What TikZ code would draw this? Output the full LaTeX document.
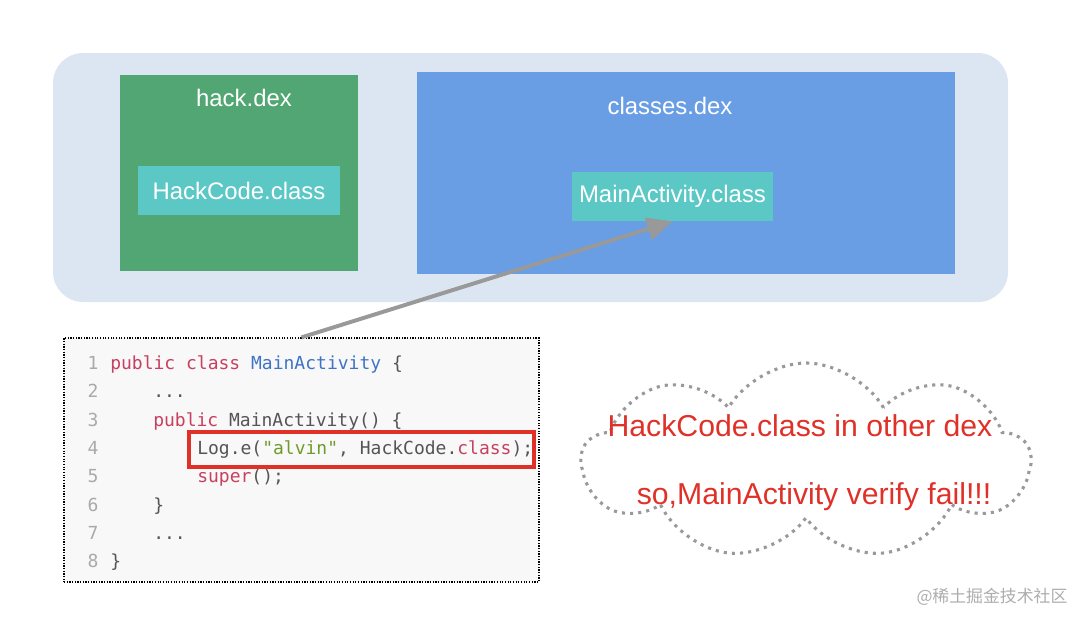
\documentclass[tikz,border=0pt]{standalone}
\usepackage{fontspec}
\setmainfont{Liberation Sans}
\setmonofont{DejaVu Sans Mono}
\newfontfamily\cjkfont{Noto Sans CJK SC}
\usetikzlibrary{arrows.meta,fit,shapes.symbols}
\definecolor{dexbg}{HTML}{DCE6F2}
\definecolor{hackgreen}{HTML}{52A673}
\definecolor{classesblue}{HTML}{699EE5}
\definecolor{classteal}{HTML}{5BC8C6}
\definecolor{arrowgray}{HTML}{999999}
\definecolor{kwred}{HTML}{C7405F}
\definecolor{typeblue}{HTML}{3F74C5}
\definecolor{strgreen}{HTML}{6F9B2B}
\definecolor{codetext}{HTML}{555555}
\definecolor{lnogray}{HTML}{AAAAAA}
\definecolor{alertred}{HTML}{E03128}
\definecolor{codebg}{HTML}{F8F8F8}
\def\kw#1{\textcolor{kwred}{#1}}

\begin{document}
\begin{tikzpicture}[x=0.025cm, y=-0.025cm,
		whitelabel/.style={text=white, inner sep=0pt, font=\fontsize{17}{20}\selectfont},
		classbox/.style={fill=classteal, inner sep=0pt},
		codeline/.style={anchor=base west, inner sep=0pt, text=codetext, font=\ttfamily\fontsize{12.8}{15}\selectfont},
		lineno/.style={anchor=base, inner sep=0pt, text=lnogray, font=\ttfamily\fontsize{12.8}{15}\selectfont},
		alerttext/.style={text=alertred, inner sep=0pt, font=\fontsize{21.5}{25}\selectfont}]
			%%%%% START %%%%%
			\useasboundingbox (0, 0) rectangle (1092, 626);
			
			% dex files
			\fill[dexbg, rounded corners=0.75cm] (53, 53) rectangle (1008, 302);
			\node[fit={(120, 75) (358, 271)}, fill=hackgreen, inner sep=0pt] (hack) {};
			\node[whitelabel] (hacklbl) at (244, 98) {hack.dex};
			\node[fit={(138, 166) (340, 215)}, classbox] (hackcode) {};
			\node[whitelabel] (hackcodelbl) at (hackcode.center) {HackCode.class};
			
			\node[fit={(417, 72) (955, 274)}, fill=classesblue, inner sep=0pt] (classes) {};
			\node[whitelabel] (classeslbl) at (670, 106) {classes.dex};
			\node[fit={(572, 172) (773, 221)}, classbox] (main) {};
			\node[whitelabel] (mainlbl) at (main.center) {MainActivity.class};
			
			% source code
			\node[fit={(64, 338) (539, 582)}, fill=codebg, draw=black, densely dotted, line width=0.9pt, inner sep=0pt] (code) {};
			\node[lineno] (n1) at (93, 369) {1};
			\node[lineno] (n2) at (93, 397) {2};
			\node[lineno] (n3) at (93, 426) {3};
			\node[lineno] (n4) at (93, 454) {4};
			\node[lineno] (n5) at (93, 482) {5};
			\node[lineno] (n6) at (93, 511) {6};
			\node[lineno] (n7) at (93, 539) {7};
			\node[lineno] (n8) at (93, 567) {8};
			\node[codeline] (l1) at (110, 369) {\kw{public} \kw{class} \textcolor{typeblue}{MainActivity} \{};
			\node[codeline] (l2) at (153, 397) {...};
			\node[codeline] (l3) at (153, 426) {\kw{public} MainActivity() \{};
			\node[codeline] (l4) at (197, 454) {Log.e(\textcolor{strgreen}{"alvin"}, HackCode.\kw{class});};
			\node[codeline] (l5) at (197, 482) {\kw{super}();};
			\node[codeline] (l6) at (153, 511) {\}};
			\node[codeline] (l7) at (153, 539) {...};
			\node[codeline] (l8) at (110, 567) {\}};
			\node[fit={(189, 432) (534, 467)}, draw=alertred, line width=2.3pt, inner sep=0pt] (hl) {};
			
			\draw[arrowgray, line width=2.8pt, -{Triangle[length=18pt, width=16pt]}] (code.north) -- (main.south);
			
			% verify fail
			\node[cloud, cloud puffs=9, cloud puff arc=120, draw=arrowgray, line width=2.2pt, dash pattern=on 2.2pt off 3.6pt,
				minimum width=11.2cm, minimum height=4.9cm] (bubble) at (806, 461) {};
			\node[alerttext] (fail1) at (800, 426) {HackCode.class in other dex};
			\node[alerttext] (fail2) at (814, 497) {so,MainActivity verify fail!!!};
			
			\node[text=black!32, inner sep=0pt, font=\cjkfont\fontsize{12}{14}\selectfont] (mark) at (992, 597) {@稀土掘金技术社区};
			%%%%% END %%%%%
\end{tikzpicture}
\end{document}
